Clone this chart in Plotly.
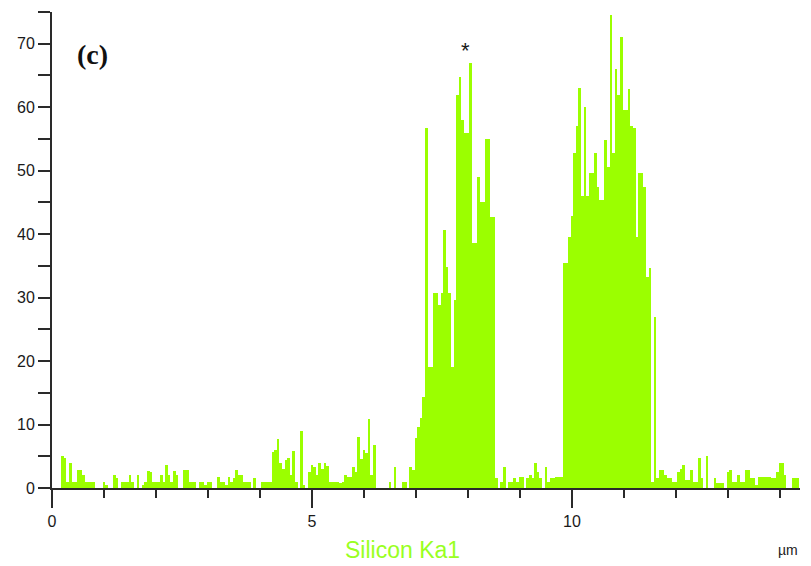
import numpy as np
import plotly.graph_objects as go

# Line-scan sampling: start position and step along the scan (µm)
scan_start = 0.20
scan_step = 0.05

# Silicon Ka1 counts, one value per 0.05 µm from 0.20 µm
silicon_counts = [
    # 0.20 - 0.65
    5.0, 4.8, 1, 4, 1, 1, 2.8, 2.8, 2, 1,
    # 0.70 - 1.15
    1, 1, 1, 0, 0, 0, 1, 0.5, 0, 0,
    # 1.20 - 1.65
    2, 1.5, 0, 1, 1, 1, 2, 1, 0, 2,
    # 1.70 - 2.15
    0, 0.5, 1, 2.7, 2.5, 1, 1, 1, 2, 1,
    # 2.20 - 2.65
    3.6, 2, 1, 2.7, 2, 0, 0, 2.8, 2.8, 1,
    # 2.70 - 3.15
    1, 1, 0, 1, 1, 0.5, 1, 1, 0, 0,
    # 3.20 - 3.65
    1.8, 1, 1, 0.5, 1.8, 1, 1.5, 2.8, 2, 2,
    # 3.70 - 4.15
    1, 1, 1, 0, 1.5, 0, 0, 1, 1, 1,
    # 4.20 - 4.65
    1, 5.7, 6, 7.8, 4, 3, 4.4, 4.7, 2, 5.8,
    # 4.70 - 5.15
    1, 0, 9, 0.5, 0, 2.5, 3.6, 3.3, 2, 4,
    # 5.20 - 5.65
    3, 4, 3.5, 1, 1, 1, 1, 0.8, 1, 2,
    # 5.70 - 6.15
    1.8, 1.8, 3.3, 2.5, 8, 4.5, 6, 5.5, 10.8, 2,
    # 6.20 - 6.65
    6.8, 0, 0, 0, 0, 0, 1, 0, 3.3, 0,
    # 6.70 - 7.15
    0, 1, 1, 0, 3.3, 2.8, 7.9, 9.6, 11, 14.4,
    # 7.20 - 7.65
    56.8, 19, 19, 30.7, 30.7, 28.9, 30.7, 40.7, 34.9, 30.7,
    # 7.70 - 8.15
    19, 29.6, 62, 64.8, 58, 56, 56, 67, 38.6, 38.6,
    # 8.20 - 8.65
    49, 45, 45, 55, 55, 42.7, 42.7, 1.5, 0, 1,
    # 8.70 - 9.15
    3.3, 0, 1, 1, 1.5, 1, 1.8, 1.8, 0, 1.5,
    # 9.20 - 9.65
    2, 1.5, 4, 2.5, 1.5, 0, 3.3, 1, 1.5, 1.5,
    # 9.70 - 10.15
    1.7, 1.7, 1.7, 35.5, 35.5, 39.6, 42.8, 52.8, 57, 63,
    # 10.20 - 10.65
    46, 60, 46, 49.7, 49.7, 52.8, 47.5, 45.4, 45.4, 54.9,
    # 10.70 - 11.15
    50.6, 74.6, 52.8, 66, 62, 71, 59.6, 59.6, 62.8, 57,
    # 11.20 - 11.65
    56.8, 39.6, 49.7, 49.7, 47.5, 33.3, 34.7, 1, 27, 1.5,
    # 11.70 - 12.15
    2.8, 2.8, 2, 1.6, 1.6, 1, 1, 2.5, 3, 3.7,
    # 12.20 - 12.65
    1.2, 1.2, 2.8, 1, 1, 4.7, 1.5, 0, 5, 0,
    # 12.70 - 13.15
    0, 1.6, 0.8, 0.8, 0.8, 0, 2.5, 2.8, 1, 1,
    # 13.20 - 13.65
    2, 1, 1, 2.8, 2.8, 1.6, 1.6, 0.5, 1.8, 1.8,
    # 13.70 - 14.15
    1.8, 1.8, 1.8, 1.6, 1.6, 2.5, 3.9, 3.9, 2, 0,
    # 14.20 - 14.35
    0, 1.6, 1.6, 1.6,
]

x_tick_values = [0, 5, 10]
x_tick_labels = ["0", "5", "10"]
y_tick_values = [0, 10, 20, 30, 40, 50, 60, 70]
y_tick_labels = ["0", "10", "20", "30", "40", "50", "60", "70"]

positions = np.round(scan_start + scan_step * np.arange(len(silicon_counts)), 3)

GREEN = "#9BFF00"
AXIS = "#2a2a2a"
TXT = "#1a1a1a"

fig = go.Figure()
fig.add_trace(go.Bar(
    x=positions,
    y=silicon_counts,
    width=scan_step,
    marker=dict(color=GREEN, line=dict(width=0)),
    hoverinfo="x+y",
))

# The page adds an 8 px body margin, so the figure is sized/margined to compensate.
fig.update_layout(
    width=803,
    height=558,
    margin=dict(l=44, r=11, t=4, b=78, autoexpand=False),
    paper_bgcolor="white",
    plot_bgcolor="white",
    showlegend=False,
    bargap=0,
    font=dict(family="Liberation Sans, Arial, sans-serif", size=16, color=TXT),
    xaxis=dict(
        range=[0, 14.385],
        tickvals=x_tick_values,
        ticktext=x_tick_labels,
        ticks="outside",
        ticklen=18,
        tickwidth=2,
        tickcolor=AXIS,
        showline=True,
        linecolor=AXIS,
        linewidth=2,
        showgrid=False,
        zeroline=False,
        minor=dict(dtick=1, ticks="outside", ticklen=8, tickwidth=2, tickcolor=AXIS),
        tickfont=dict(size=16, color=TXT),
    ),
    yaxis=dict(
        range=[0, 75],
        tickvals=y_tick_values,
        ticktext=y_tick_labels,
        ticks="outside",
        ticklen=12,
        tickwidth=2,
        tickcolor=AXIS,
        showline=True,
        linecolor=AXIS,
        linewidth=2,
        showgrid=False,
        zeroline=False,
        minor=dict(dtick=5, ticks="outside", ticklen=12, tickwidth=2, tickcolor=AXIS),
        tickfont=dict(size=16, color=TXT),
    ),
    annotations=[
        dict(text="<b>(c)</b>", xref="paper", yref="paper", x=0.0535, y=0.91,
             showarrow=False, xanchor="center", yanchor="middle",
             font=dict(family="Liberation Serif, Times New Roman, serif", size=28, color="#111111")),
        dict(text="*", xref="x", yref="y", x=7.95, y=69.0,
             showarrow=False, xanchor="center", yanchor="middle",
             font=dict(family="Liberation Sans, Arial, sans-serif", size=22, color=TXT)),
        dict(text="Silicon Ka1", xref="paper", yref="paper", x=0.469, y=-0.13,
             showarrow=False, xanchor="center", yanchor="middle",
             font=dict(family="Liberation Sans, Arial, sans-serif", size=23, color="#99FF22")),
        dict(text="µm", xref="paper", yref="paper", x=0.984, y=-0.13,
             showarrow=False, xanchor="center", yanchor="middle",
             font=dict(family="Liberation Sans, Arial, sans-serif", size=14, color=TXT)),
    ],
)

fig.write_html("out.html")
